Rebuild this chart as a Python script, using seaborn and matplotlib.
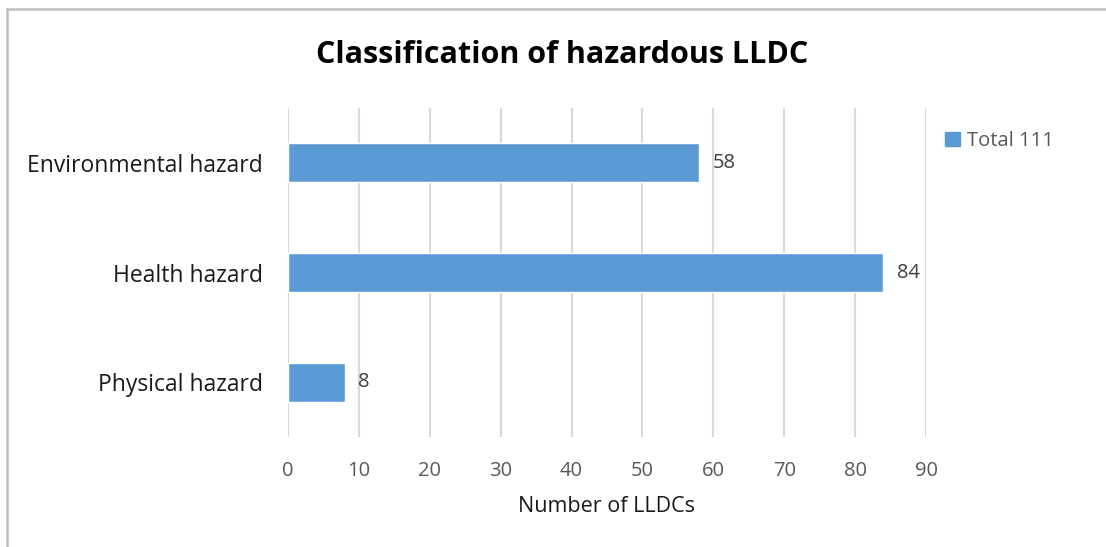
import matplotlib
matplotlib.use("Agg")
import matplotlib.pyplot as plt
import seaborn as sns
import pandas as pd
from matplotlib.patches import Rectangle, Patch

categories = ["Environmental hazard", "Health hazard", "Physical hazard"]
values = [58, 84, 8]
series_name = "Total 111"
x_ticks = [0, 10, 20, 30, 40, 50, 60, 70, 80, 90]

sns.set_theme(style="white")
plt.rcParams['font.family'] = ['Open Sans', 'DejaVu Sans']

df = pd.DataFrame({"category": categories, "value": values})

fig = plt.figure(figsize=(11.06, 5.47), dpi=100)
ax = fig.add_axes([288/1106, 1-437/547, (926-288)/1106, (437-108)/547])

bar_color = "#5B9BD5"
sns.barplot(data=df, y="category", x="value", orient="h", color=bar_color,
            width=0.355, ax=ax, saturation=1)

ax.set_xlim(0, 90)
ax.set_ylim(2.5, -0.5)
ax.set_xticks(x_ticks)
ax.set_xticklabels([str(t) for t in x_ticks], fontsize=14.5, color="#595959")
ax.tick_params(axis="x", length=0, pad=17)
ax.tick_params(axis="y", length=0, pad=18, labelsize=16.5, labelcolor="#1a1a1a")
ax.grid(axis="x", color="#D9D9D9", linewidth=1.5)
ax.set_axisbelow(True)
for s in ax.spines.values():
    s.set_visible(False)
ax.set_ylabel("")
ax.set_xlabel("Number of LLDCs", fontsize=15.5, color="#1a1a1a")
ax.xaxis.set_label_coords((607-288)/(926-288), -(507-437)/(437-108))
ax.xaxis.label.set_va("center")

for i, v in enumerate(values):
    ax.text(v + 1.9, i, str(v), va="center", ha="left", fontsize=14.5, color="#404040")

fig.text(562/1106, 1-55/547, "Classification of hazardous LLDC", ha="center", va="center",
         fontsize=22, fontweight="bold", color="black")

handles = [Patch(facecolor=bar_color, edgecolor=bar_color)]
fig.legend(handles, [series_name], loc="center left", bbox_to_anchor=(927/1106, 1-141/547),
           frameon=False, fontsize=14.5, handlelength=0.75, handleheight=0.75,
           handletextpad=0.35, labelcolor="#595959")

border = Rectangle((7/1106, -0.1), 1.2, 1 - 9/547 + 0.1, transform=fig.transFigure,
                   fill=False, edgecolor="#BFBFBF", linewidth=1.8)
fig.patches.append(border)

fig.savefig("out.png", dpi=100)
